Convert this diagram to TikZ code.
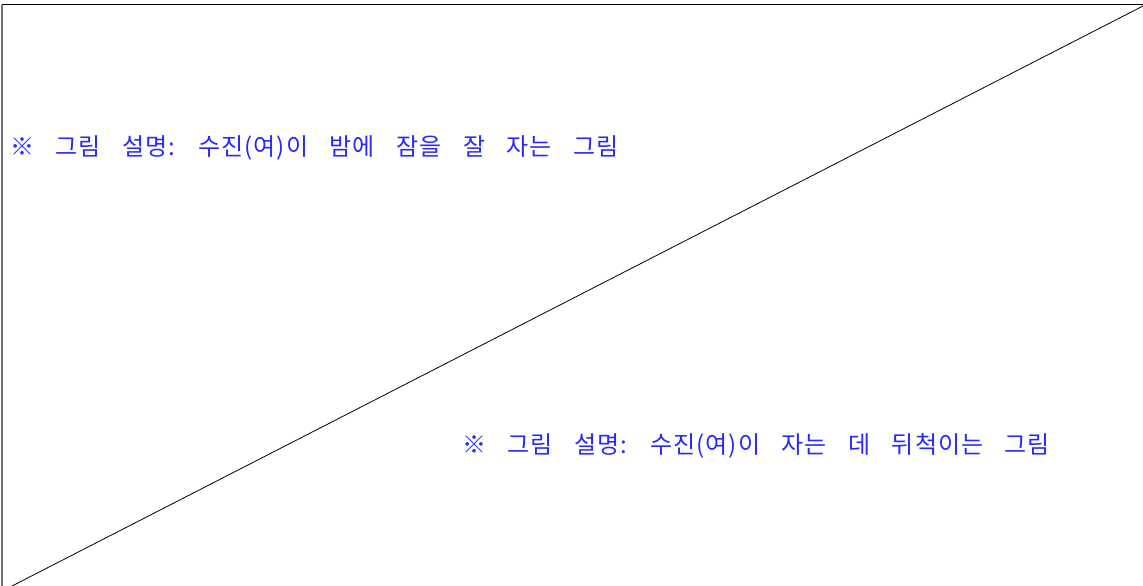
\documentclass[tikz,border=0pt]{standalone}
\usepackage{fontspec}
\newfontfamily\kr[WordSpace=3.4,LetterSpace=4]{Noto Sans CJK KR}
\begin{document}
\begin{tikzpicture}[x=1pt,y=-1pt]
\definecolor{capcolor}{RGB}{40,40,255}
\tikzset{caption/.style = {anchor = west, inner sep = 0pt, text = capcolor, font = \kr\fontsize{24}{24}\selectfont}}
\useasboundingbox (0,0) rectangle (1143,586);
\draw [draw = black!55, line width = 2pt] (1.5,5) -- (1.5,586);
\draw [draw = black, line width = 1pt] (1.5,5) -- (1143,5);
\coordinate (low) at (12,586);
\coordinate (high) at (1143,6);
\draw [draw = black, line width = 0.8pt] (low) -- (high);
\node [caption] (night) at (10,148) {※ 그림 설명: 수진(여)이 밤에 잠을 잘 자는 그림};
\node [caption] (toss) at (462,446) {※ 그림 설명: 수진(여)이 자는 데 뒤척이는 그림};
\end{tikzpicture}
\end{document}
